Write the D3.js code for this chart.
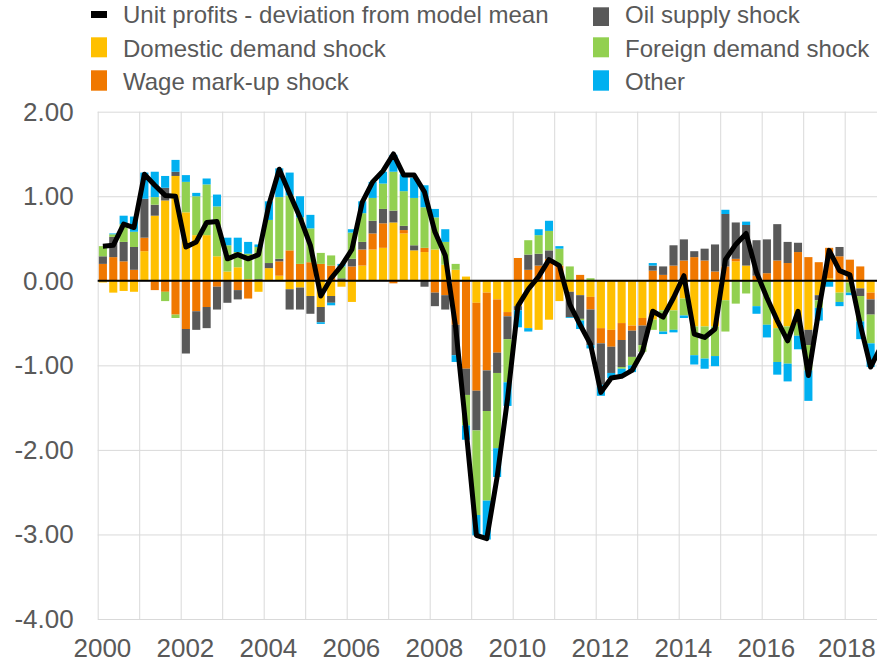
<!DOCTYPE html>
<html>
<head>
<meta charset="utf-8">
<script src="https://cdn.jsdelivr.net/npm/d3@7"></script>
<style>
  body { margin: 0; background: #fff; }
  svg { display: block; font-family: "Liberation Sans", Arial, sans-serif; }
</style>
</head>
<body>
<svg></svg>
<script>
// quarters 2000Q1 .. 2018Q4
const quarters = [
  "2000Q1","2000Q2","2000Q3","2000Q4","2001Q1","2001Q2","2001Q3","2001Q4",
  "2002Q1","2002Q2","2002Q3","2002Q4","2003Q1","2003Q2","2003Q3","2003Q4",
  "2004Q1","2004Q2","2004Q3","2004Q4","2005Q1","2005Q2","2005Q3","2005Q4",
  "2006Q1","2006Q2","2006Q3","2006Q4","2007Q1","2007Q2","2007Q3","2007Q4",
  "2008Q1","2008Q2","2008Q3","2008Q4","2009Q1","2009Q2","2009Q3","2009Q4",
  "2010Q1","2010Q2","2010Q3","2010Q4","2011Q1","2011Q2","2011Q3","2011Q4",
  "2012Q1","2012Q2","2012Q3","2012Q4","2013Q1","2013Q2","2013Q3","2013Q4",
  "2014Q1","2014Q2","2014Q3","2014Q4","2015Q1","2015Q2","2015Q3","2015Q4",
  "2016Q1","2016Q2","2016Q3","2016Q4","2017Q1","2017Q2","2017Q3","2017Q4",
  "2018Q1","2018Q2","2018Q3","2018Q4"
];

const unitProfits = [
  0.41, 0.42, 0.67, 0.63, 1.26, 1.13, 1.01, 1.00,
  0.40, 0.46, 0.69, 0.70, 0.26, 0.31, 0.26, 0.31,
  0.90, 1.32, 1.03, 0.75, 0.42, -0.18, 0.03, 0.18,
  0.37, 0.93, 1.17, 1.30, 1.50, 1.25, 1.25, 1.05,
  0.58, 0.30, -0.55, -1.75, -3.01, -3.05, -2.32, -1.40,
  -0.30, -0.10, 0.05, 0.25, 0.18, -0.28, -0.52, -0.75,
  -1.32, -1.15, -1.13, -1.06, -0.84, -0.36, -0.43, -0.20,
  0.06, -0.63, -0.67, -0.57, 0.25, 0.43, 0.56, 0.10,
  -0.20, -0.47, -0.71, -0.36, -1.12, -0.35, 0.36, 0.12,
  0.07, -0.52, -1.02, -0.78
];

const domestic = [
  -0.02, -0.14, -0.12, -0.13, 0.35, 0.77, 0.95, 1.24,
  0.81, 0.54, 0.54, 0.29, 0.11, 0.16, 0.02, -0.13,
  0.15, 0.06, -0.10, -0.08, -0.18, -0.31, -0.18, -0.07,
  -0.25, 0.18, 0.37, 0.39, 0.69, 0.56, 0.36, 0.34,
  0.37, 0.19, 0.13, 0.05, -0.26, -0.14, -0.22, -0.37,
  -0.30, -0.56, -0.58, -0.46, -0.24, -0.13, -0.17, -0.19,
  -0.56, -0.58, -0.50, -0.53, -0.44, -0.46, -0.35, -0.35,
  -0.21, -0.54, -0.54, -0.54, -0.23, 0.23, 0.18, 0.00,
  0.00, -0.56, -0.54, -0.50, -0.58, -0.17, 0.03, -0.14,
  -0.02, -0.09, -0.14, -0.12
];

const wage = [
  0.20, 0.28, 0.23, 0.13, 0.16, -0.11, -0.13, -0.40,
  -0.57, -0.36, -0.31, -0.07, 0.00, -0.11, -0.21, 0.00,
  0.00, 0.17, 0.36, 0.20, 0.22, 0.20, 0.18, 0.00,
  0.17, 0.19, 0.19, 0.29, -0.03, 0.04, 0.00, 0.05,
  -0.14, -0.17, -0.52, -1.04, -1.04, -0.92, -0.63, -0.05,
  0.27, 0.13, 0.18, 0.26, 0.18, 0.00, 0.07, -0.15,
  -0.18, -0.20, -0.20, -0.06, -0.09, 0.12, 0.07, 0.18,
  0.24, 0.28, 0.24, 0.11, 0.17, 0.03, 0.00, 0.06,
  0.09, 0.24, 0.21, 0.34, 0.28, 0.22, 0.36, 0.29,
  0.25, 0.17, -0.08, -0.06
];

const oil = [
  0.09, 0.24, 0.23, 0.27, 0.46, 0.13, 0.15, 0.05,
  -0.29, -0.22, -0.25, -0.27, -0.26, -0.11, 0.00, 0.02,
  0.06, 0.03, -0.24, -0.26, -0.21, -0.18, -0.08, 0.03,
  0.09, 0.09, 0.15, 0.17, 0.14, 0.05, 0.06, -0.07,
  -0.16, -0.17, -0.36, -0.31, -0.47, -0.48, -0.24, -0.27,
  -0.05, 0.18, 0.14, 0.10, 0.00, -0.30, -0.28, -0.42,
  -0.49, -0.31, -0.32, -0.31, -0.23, 0.06, 0.10, 0.24,
  0.25, 0.07, 0.14, 0.32, 0.62, 0.43, 0.48, 0.42,
  0.40, 0.43, 0.25, 0.11, -0.18, -0.06, 0.00, 0.11,
  0.00, -0.09, -0.18, -0.15
];

const foreign = [
  0.12, 0.03, 0.21, 0.18, 0.00, 0.09, -0.11, -0.04,
  0.36, 0.46, 0.60, 0.59, 0.31, 0.18, 0.30, 0.38,
  0.51, 0.73, 0.65, 0.55, 0.40, 0.13, 0.12, 0.14,
  0.31, 0.34, 0.27, 0.30, 0.46, 0.41, 0.56, 0.48,
  0.38, 0.27, 0.07, -0.36, -1.00, -1.06, -0.89, -0.51,
  0.00, 0.17, 0.22, 0.23, 0.20, 0.17, -0.02, 0.03,
  0.00, 0.00, -0.02, -0.10, -0.08, -0.12, -0.25, -0.23,
  -0.20, -0.34, -0.38, -0.35, -0.37, -0.27, -0.15, -0.30,
  -0.52, -0.40, -0.44, -0.15, -0.30, -0.09, 0.00, -0.11,
  -0.12, -0.30, -0.34, -0.30
];

const other = [
  0.00, 0.01, 0.10, 0.18, 0.31, 0.30, 0.14, 0.14,
  0.08, 0.04, 0.07, 0.14, 0.09, 0.17, 0.14, 0.03,
  0.22, 0.34, 0.27, 0.25, 0.16, -0.02, -0.03, 0.03,
  0.04, 0.14, 0.19, 0.14, 0.20, 0.20, 0.24, 0.26,
  0.10, 0.15, -0.08, -0.17, -0.24, -0.46, -0.34, -0.28,
  -0.20, -0.04, 0.07, 0.12, 0.03, -0.01, -0.10, -0.04,
  -0.13, -0.06, -0.07, -0.08, 0.00, 0.03, -0.03, -0.03,
  -0.03, -0.11, -0.12, -0.12, 0.05, 0.00, 0.04, -0.09,
  -0.15, -0.15, -0.21, -0.16, -0.36, -0.15, -0.07, -0.05,
  -0.03, -0.21, -0.28, -0.20
];

const seriesNames = ["Domestic demand shock", "Wage mark-up shock", "Oil supply shock",
                     "Foreign demand shock", "Other"];
const lineName = "Unit profits - deviation from model mean";
const colors = ["#FFC000", "#F07800", "#595959", "#92D050", "#00B0F0"];
const yearLabels = [2000, 2002, 2004, 2006, 2008, 2010, 2012, 2014, 2016, 2018];
const yTicks = [-4, -3, -2, -1, 0, 1, 2];

var w = 877;
var h = 663;
const plotLeft = 97.7, plotTop = 111.7, plotBottom = 619;
const step = 10.375;
const plotRight = plotLeft + quarters.length * step;

const svg = d3.select("svg").attr("width", w).attr("height", h);

const xBand = d3.scaleBand()
  .domain(quarters)
  .range([plotLeft, plotRight])
  .paddingInner(0.22)
  .paddingOuter(0.11);

const xYear = d3.scaleLinear()
  .domain([2000, 2019])
  .range([plotLeft, plotRight]);

const y = d3.scaleLinear()
  .domain([-4, 2])
  .range([plotBottom, plotTop]);

// gridlines
const allYears = d3.range(2000, 2019);
svg.append("g")
  .attr("transform", `translate(0,${plotTop})`)
  .call(d3.axisBottom(xYear).tickValues(allYears).tickSize(plotBottom - plotTop).tickFormat(""))
  .call(g => g.select(".domain").remove())
  .call(g => g.selectAll("line").attr("stroke", "#D9D9D9").attr("stroke-width", 1));

svg.append("g")
  .attr("transform", `translate(${plotLeft},0)`)
  .call(d3.axisRight(y).tickValues(yTicks).tickSize(plotRight - plotLeft).tickFormat(""))
  .call(g => g.select(".domain").remove())
  .call(g => g.selectAll("line").attr("stroke", "#D9D9D9").attr("stroke-width", 1));

// tick labels
svg.append("g")
  .attr("transform", `translate(${plotLeft},0)`)
  .call(d3.axisLeft(y).tickValues(yTicks).tickSize(0).tickPadding(24)
    .tickFormat(d => d.toFixed(2)))
  .call(g => g.select(".domain").remove())
  .call(g => g.selectAll("text")
    .attr("font-size", 26).attr("fill", "#595959")
    .attr("font-family", "Liberation Sans, Arial, sans-serif"));

svg.append("g")
  .attr("transform", `translate(4.2,${plotBottom})`)
  .call(d3.axisBottom(xYear).tickValues(yearLabels).tickSize(0).tickPadding(20)
    .tickFormat(d3.format("d")))
  .call(g => g.select(".domain").remove())
  .call(g => g.selectAll("text")
    .attr("font-size", 26).attr("fill", "#595959")
    .attr("font-family", "Liberation Sans, Arial, sans-serif"))
  // last label sits against the right edge, as in the original
  .call(g => g.selectAll("text").filter(d => d === 2018).attr("dx", -2.5));

// stacked bars
const rows = quarters.map((q, i) => ({
  q: q,
  k0: domestic[i], k1: wage[i], k2: oil[i], k3: foreign[i], k4: other[i]
}));
const keys = ["k0", "k1", "k2", "k3", "k4"];
const stacked = d3.stack().keys(keys).offset(d3.stackOffsetDiverging)(rows);

svg.append("g")
  .selectAll("g")
  .data(stacked)
  .join("g")
    .attr("fill", (d, i) => colors[i])
  .selectAll("rect")
  .data(d => d)
  .join("rect")
    .attr("x", d => xBand(d.data.q))
    .attr("width", xBand.bandwidth())
    .attr("y", d => y(Math.max(d[0], d[1])))
    .attr("height", d => Math.abs(y(d[0]) - y(d[1])));

// zero line
svg.append("line")
  .attr("x1", plotLeft).attr("x2", plotRight)
  .attr("y1", y(0)).attr("y2", y(0))
  .attr("stroke", "#000").attr("stroke-width", 2);

// unit profits line
const line = d3.line()
  .x((d, i) => xBand(quarters[i]) + xBand.bandwidth() / 2)
  .y(d => y(d));

svg.append("path")
  .datum(unitProfits)
  .attr("d", line)
  .attr("fill", "none")
  .attr("stroke", "#000")
  .attr("stroke-width", 5)
  .attr("stroke-linejoin", "round");

// legend (swatch top, swatch height, text baseline)
const legendItems = [
  { name: lineName, color: "#000", x: 91, top: 11, hgt: 7, base: 23.3 },
  { name: seriesNames[0], color: colors[0], x: 91, top: 37.3, hgt: 20, base: 56.7 },
  { name: seriesNames[1], color: colors[1], x: 91, top: 70.3, hgt: 20.4, base: 89.5 },
  { name: seriesNames[2], color: colors[2], x: 593, top: 7.3, hgt: 18.7, base: 23 },
  { name: seriesNames[3], color: colors[3], x: 593, top: 37.3, hgt: 20, base: 56.7 },
  { name: seriesNames[4], color: colors[4], x: 593, top: 70.3, hgt: 20.4, base: 89.5 }
];

const lg = svg.append("g").selectAll("g")
  .data(legendItems)
  .join("g")
  .attr("transform", d => `translate(${d.x},0)`);

lg.append("rect")
  .attr("x", 0).attr("y", d => d.top)
  .attr("width", 16).attr("height", d => d.hgt)
  .attr("fill", d => d.color);

lg.append("text")
  .attr("x", 32)
  .attr("y", d => d.base)
  .attr("font-size", 24)
  .attr("fill", "#595959")
  .text(d => d.name);
</script>
</body>
</html>
